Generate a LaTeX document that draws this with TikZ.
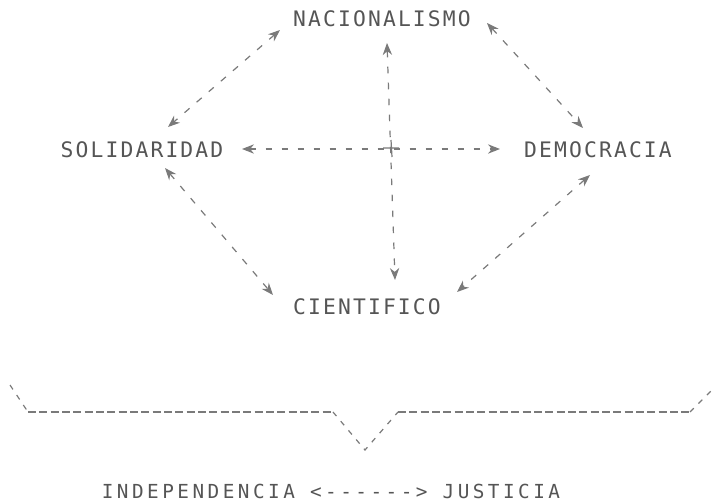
\documentclass[tikz,border=0pt]{standalone}
\usepackage{fontspec}
\newfontfamily\monoA[LetterSpace=10]{DejaVu Sans Mono}
\newfontfamily\monoB[LetterSpace=18]{DejaVu Sans Mono}
\usetikzlibrary{arrows.meta,calc}
\definecolor{ink}{HTML}{555555}
\definecolor{lin}{HTML}{7A7A7A}
\begin{document}
\begin{tikzpicture}[x=0.75pt,y=-0.75pt,
  lbl/.style={font=\monoA\fontsize{16}{19}\selectfont, text=ink, inner sep=0pt, anchor=center},
  lblb/.style={font=\monoB\fontsize{14.5}{17}\selectfont, text=ink, inner sep=0pt, anchor=center},
  conn/.style={draw=lin, line width=0.9pt, dash pattern=on 5pt off 7pt,
     {Stealth[length=9pt,width=7pt]}-{Stealth[length=9pt,width=7pt]}},
  brace/.style={draw=lin, line width=1.1pt, dash pattern=on 6pt off 2.5pt},
  bracediag/.style={draw=lin, line width=0.9pt, dash pattern=on 4pt off 5pt}]
\useasboundingbox (0,0) rectangle (713,503);
\node[lbl] (nac) at (382,19) {NACIONALISMO};
\node[lbl] (sol) at (142,150) {SOLIDARIDAD};
\node[lbl] (dem) at (598,150) {DEMOCRACIA};
\node[lbl] (cie) at (367,307) {CIENTIFICO};
\node[lblb] (bot) at (331,491) {INDEPENDENCIA <------> JUSTICIA};
% connectors
\draw[conn] ([shift={(-102,11)}]nac.center) -- ([shift={(26,-23)}]sol.center);
\draw[conn] ([shift={(105,4)}]nac.center) -- ([shift={(-15,-22)}]dem.center);
\draw[conn] ([shift={(5,24)}]nac.center) -- ([shift={(28,-27)}]cie.center);
\draw[conn] ([shift={(100,-1)}]sol.center) -- ([shift={(-98,-1)}]dem.center);
\draw[conn] ([shift={(23,18)}]sol.center) -- ([shift={(-94,-12)}]cie.center);
\draw[conn] ([shift={(-8,25)}]dem.center) -- ([shift={(90,-15)}]cie.center);
% crossing mark
\draw[lin, line width=0.9pt] (383,148) -- (399,148) (391,140) -- (392,157);
% brace
\draw[bracediag] (10,385) -- (28,412);
\draw[brace] (28,412) -- (333,412);
\draw[bracediag] (333,412) -- (365,450) -- (398,412);
\draw[brace] (398,412) -- (690,412);
\draw[bracediag] (690,412) -- (712,390);
\end{tikzpicture}
\end{document}
